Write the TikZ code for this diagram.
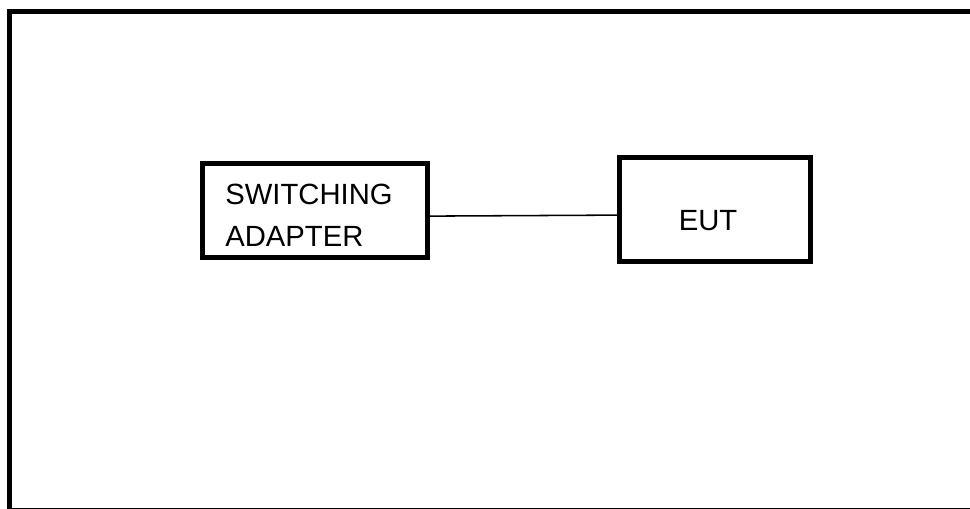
\documentclass[tikz,border=0pt]{standalone}
\usepackage{fontspec}
\setmainfont{Liberation Sans}
\usetikzlibrary{positioning}
\tikzset{
  unit/.style={
      rectangle,
      draw,
      line width=0.125cm,
      inner sep=0pt
    },
  lbl/.style={
      font=\fontsize{20.8}{29.9}\selectfont,
      inner sep=0pt
    },
  wire/.style={
      line width=1.1pt
    }
}
\begin{document}
\begin{tikzpicture}[x=0.025cm, y=-0.025cm]
  \useasboundingbox (0,0) rectangle (970,508);
  \clip (0,0) rectangle (970,508);
  % frame
  \draw[line width=0.125cm] (9.5,11.5) rectangle (980,510.3);
  % units
  \node[unit, minimum width=5.625cm, minimum height=2.35cm] (adapter) at (315,210.5) {};
  \node[unit, minimum width=4.7625cm, minimum height=2.6cm] (eut) at (714.75,209.5) {};
  \node[lbl, align=left, anchor=west] (adaptertxt) at (225,215) {SWITCHING\\ADAPTER};
  \node[lbl, anchor=base] (euttxt) at (708,230) {EUT};
  % cable
  \draw[wire] ([yshift=-0.14cm]adapter.east) -- ([yshift=-0.14cm]eut.west);
\end{tikzpicture}
\end{document}
